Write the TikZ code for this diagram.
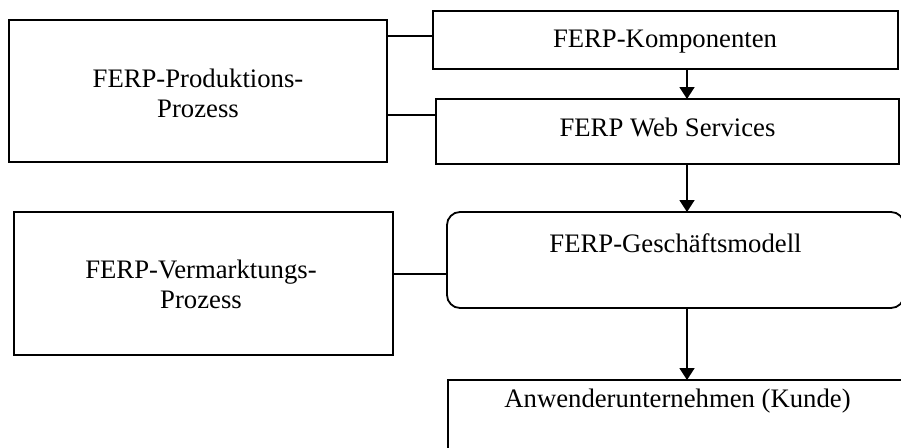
\documentclass[tikz,border=0pt]{standalone}
\usepackage{fontspec}
\setmainfont{Liberation Serif}
\usetikzlibrary{arrows.meta}
\tikzset{
  box/.style={draw, line width=1.8pt, inner sep=0pt, outer sep=0pt},
  roundbox/.style={box, rounded corners=13pt},
  txt/.style={anchor=base, align=center, inner sep=0pt,
    font=\fontsize{26.7}{30}\selectfont},
  link/.style={line width=1.8pt},
  arr/.style={line width=1.8pt, -{Triangle[width=15pt,length=12pt]}}
}
\begin{document}
\begin{tikzpicture}[x=1pt, y=-1pt]
  \useasboundingbox (0,0) rectangle (901,447);
  \clip (0,0) rectangle (901,447);

  % boxes
  \node[box, minimum width=377.5pt, minimum height=142pt] (prod) at (198,91) {};
  \node[box, minimum width=465pt, minimum height=58pt] (komp) at (665.5,40) {};
  \node[box, minimum width=463pt, minimum height=65pt] (web) at (667.5,131.5) {};
  \node[box, minimum width=379pt, minimum height=143pt] (verm) at (203.5,283.5) {};
  \node[roundbox, minimum width=457pt, minimum height=96pt] (gesch) at (675.5,260) {};
  \node[box, minimum width=459pt, minimum height=100pt] (kunde) at (677.5,430) {};

  % texts (a two-line text sits on the baseline of its last line)
  \node[txt] (tprod) at (198,117) {FERP-Produktions-\\Prozess};
  \node[txt] (tkomp) at (665,47) {FERP-Komponenten};
  \node[txt] (tweb) at (667.5,136) {FERP Web Services};
  \node[txt] (tverm) at (201,308) {FERP-Vermarktungs-\\Prozess};
  \node[txt] (tgesch) at (675.5,252) {FERP-Geschäftsmodell};
  \node[txt] (tkunde) at (677.5,407) {Anwenderunternehmen (Kunde)};

  % side links
  \draw[link] ([yshift=4pt]komp.west) -- ([yshift=4pt]komp.west -| prod.east);
  \draw[link] ([yshift=16.5pt]web.west) -- ([yshift=16.5pt]web.west -| prod.east);
  \draw[link] ([yshift=-14pt]gesch.west) -- ([yshift=-14pt]gesch.west -| verm.east);

  % main flow
  \coordinate (axis) at (687,0);
  \draw[arr] (komp.south -| axis) -- (web.north -| axis);
  \draw[arr] (web.south -| axis) -- (gesch.north -| axis);
  \draw[arr] (gesch.south -| axis) -- (kunde.north -| axis);
\end{tikzpicture}
\end{document}
